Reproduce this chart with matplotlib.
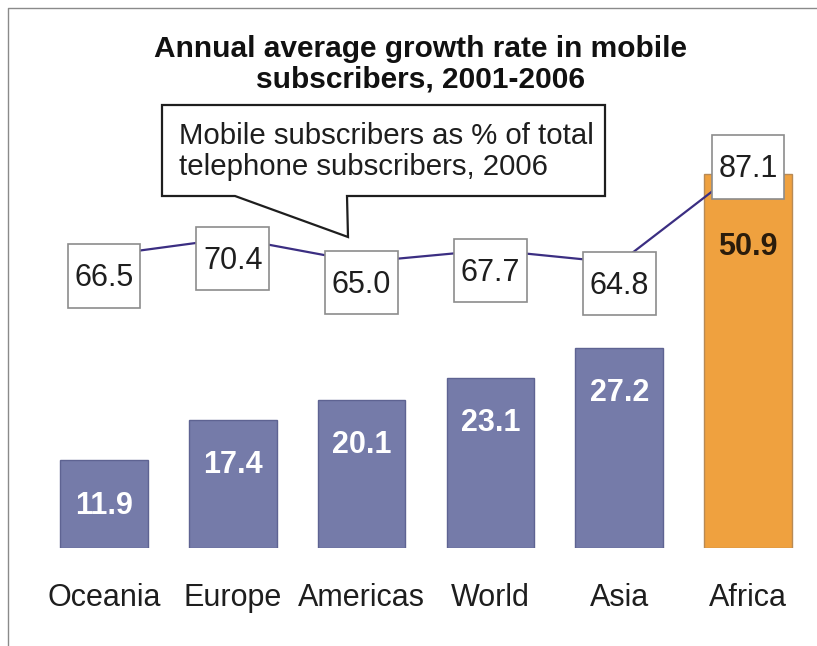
"""Mobile subscriber growth by region, bars plus share-of-total line."""

import matplotlib

matplotlib.use("Agg")
import matplotlib.pyplot as plt
from matplotlib.lines import Line2D
from matplotlib.patches import Polygon
from matplotlib.path import Path
import numpy as np

plt.rcParams["font.family"] = ["Liberation Sans", "DejaVu Sans"]

regions = ["Oceania", "Europe", "Americas", "World", "Asia", "Africa"]
growth_rate = [11.9, 17.4, 20.1, 23.1, 27.2, 50.9]
mobile_share = [66.5, 70.4, 65.0, 67.7, 64.8, 87.1]

BAR_BLUE = "#757ba9"
BAR_ORANGE = "#efa13f"
LINE_COLOR = "#3b2e82"
TEXT_DARK = "#1e1e1e"

W, H = 817, 646


def value_box(x0, y0, width, height, mutation_size):
    # fixed-size white label box, independent of text width
    cx = x0 + width / 2
    cy = y0 + height / 2 + 0.08 * mutation_size
    hw, hh = 1.19 * mutation_size, 1.04 * mutation_size
    verts = [(cx - hw, cy - hh), (cx + hw, cy - hh), (cx + hw, cy + hh),
             (cx - hw, cy + hh), (cx - hw, cy - hh)]
    return Path(verts, closed=True)


fig = plt.figure(figsize=(W / 100, H / 100), dpi=100)
ax = fig.add_axes([39.6 / W, 98 / H, 772.8 / W, 548 / H])
ax2 = ax.twinx()

x = np.arange(len(regions))
colors = [BAR_BLUE] * (len(regions) - 1) + [BAR_ORANGE]
edges = ["#5e6392"] * (len(regions) - 1) + ["#b88a55"]
ax.bar(x, growth_rate, width=0.68, color=colors, edgecolor=edges, linewidth=1.0, zorder=2)
ax.set_xlim(-0.5, len(regions) - 0.5)
ax.set_ylim(0, 74.5)

for i, v in enumerate(growth_rate):
    last = i == len(regions) - 1
    ax.annotate(
        f"{v:.1f}",
        (x[i], v),
        xytext=(0, -53 if last else -32.5),
        textcoords="offset points",
        ha="center",
        va="center",
        fontsize=22,
        fontweight="bold",
        color="#2a1c0c" if last else "white",
        zorder=3,
    )

# share line on its own scale
ax2.plot(x, mobile_share, color=LINE_COLOR, linewidth=1.6, zorder=3)
ax2.set_ylim(0.6, 124.0)
for i, v in enumerate(mobile_share):
    last = i == len(regions) - 1
    ax2.annotate(
        f"{v:.1f}",
        (x[i], v),
        xytext=(0, -4 if last else -16.5),
        textcoords="offset points",
        ha="center",
        va="center",
        fontsize=22,
        color=TEXT_DARK,
        zorder=5,
        bbox=dict(boxstyle=value_box, facecolor="white", edgecolor="#8c8c8c", linewidth=1.2),
    )

for a in (ax, ax2):
    for side in a.spines.values():
        side.set_visible(False)
    a.tick_params(left=False, right=False, bottom=False, labelleft=False, labelright=False)
    a.set_yticks([])

ax.set_xticks(x)
ax.set_xticklabels(regions, fontsize=22, color=TEXT_DARK)
ax.tick_params(axis="x", pad=25, length=0)

fig.text(421 / W, 1 - 88 / H, "Annual average growth rate in mobile\nsubscribers, 2001-2006",
         ha="center", va="baseline", fontsize=21.5, fontweight="bold", color="#111111",
         linespacing=1.13)

# callout box with pointer towards the line
callout = [(162, 105), (605, 105), (605, 196), (347, 196), (348, 237), (235, 196), (162, 196)]
fig.patches.append(Polygon([(px / W, 1 - py / H) for px, py in callout], closed=True,
                           transform=fig.transFigure, facecolor="white", edgecolor=TEXT_DARK,
                           linewidth=1.6, zorder=1))
fig.text(179 / W, 1 - 175 / H, "Mobile subscribers as % of total\ntelephone subscribers, 2006",
         ha="left", va="baseline", fontsize=21.2, color=TEXT_DARK, linespacing=1.12)

# frame on the left and top
fig.add_artist(Line2D([8 / W, 8 / W, 1], [0, 1 - 8 / H, 1 - 8 / H], transform=fig.transFigure,
                      color="#8a8a8a", linewidth=1.0))

fig.savefig("out.png", dpi=100)
